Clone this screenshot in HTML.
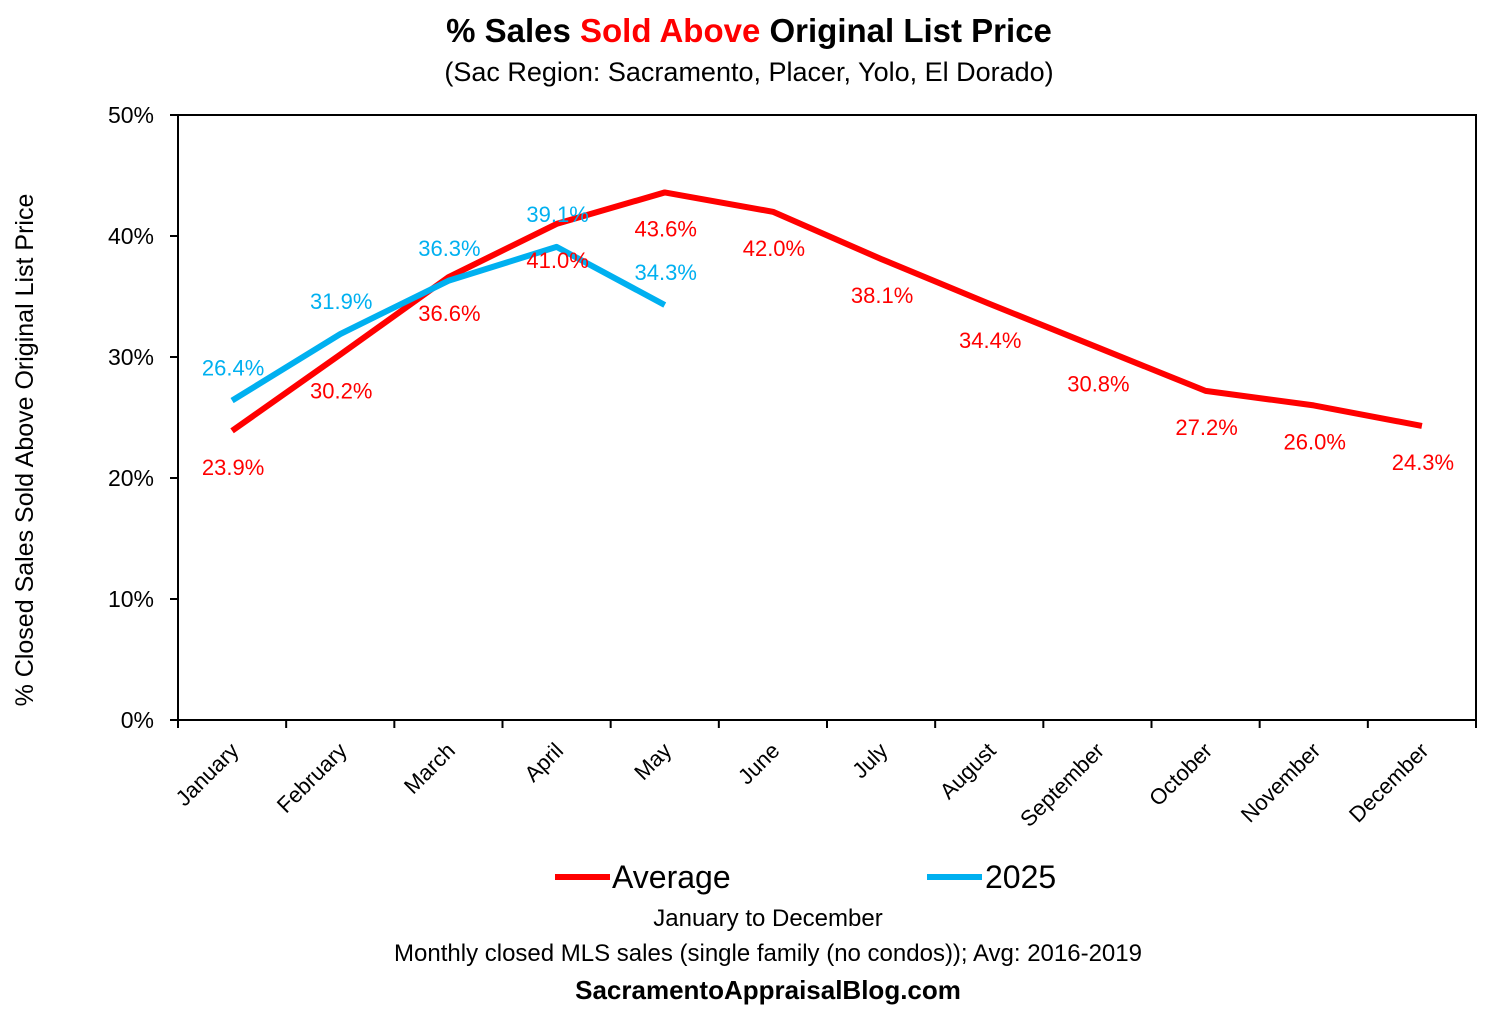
<!DOCTYPE html>
<html><head><meta charset="utf-8"><style>
body{margin:0;background:#fff;}
svg{display:block;font-family:"Liberation Sans",sans-serif;}
</style></head><body>
<svg id="chart" width="1500" height="1013" viewBox="0 0 1500 1013">
<text x="749" y="42" text-anchor="middle" font-size="33" font-weight="bold" fill="#000">% Sales <tspan fill="#ff0000">Sold Above</tspan> Original List Price</text>
<text x="749" y="81" text-anchor="middle" font-size="27" fill="#000">(Sac Region: Sacramento, Placer, Yolo, El Dorado)</text>
<text transform="translate(33,450) rotate(-90)" text-anchor="middle" font-size="25" fill="#000">% Closed Sales Sold Above Original List Price</text>
<g id="axes"></g>
<g id="series"></g>
<g>
<line x1="555" y1="877" x2="610" y2="877" stroke="#ff0000" stroke-width="6"/>
<text x="612" y="888" font-size="32" fill="#000">Average</text>
<line x1="927" y1="877" x2="982" y2="877" stroke="#00b0f0" stroke-width="6"/>
<text x="985" y="888" font-size="32" fill="#000">2025</text>
</g>
<text x="768" y="926" text-anchor="middle" font-size="24" fill="#000">January to December</text>
<text x="768" y="961" text-anchor="middle" font-size="24" fill="#000">Monthly closed MLS sales (single family (no condos)); Avg: 2016-2019</text>
<text x="768" y="999" text-anchor="middle" font-size="26" font-weight="bold" fill="#000">SacramentoAppraisalBlog.com</text>
</svg>
<script>
const months=["January","February","March","April","May","June","July","August","September","October","November","December"];
const avgValues=[23.9,30.2,36.6,41.0,43.6,42.0,38.1,34.4,30.8,27.2,26.0,24.3];
const y2025Values=[26.4,31.9,36.3,39.1,34.3];
const yTicks=[0,10,20,30,40,50];
const NS="http://www.w3.org/2000/svg";
const L=178,R=1476,T=115,B=720;
const bw=(R-L)/months.length;
const xs=i=>L+bw*(i+0.5);
const ys=v=>B-(v/50)*(B-T);
function mk(tag,attrs,parent){const e=document.createElementNS(NS,tag);for(const k in attrs)e.setAttribute(k,attrs[k]);parent.appendChild(e);return e;}
const axes=document.getElementById('axes');
let frame=mk('rect',{x:L,y:T,width:R-L,height:B-T,fill:'none',stroke:'#000','stroke-width':2},axes);


yTicks.forEach(t=>{
 const y=ys(t);
 let tk=mk('line',{x1:L-8,x2:L,y1:y,y2:y,stroke:'#000','stroke-width':2},axes);
 
 
 let lb=mk('text',{x:L-24,y:y+8,'text-anchor':'end','font-size':23,fill:'#000'},axes);
 lb.textContent=t+'%';
 
 
});
for(let i=0;i<=months.length;i++){
 const x=L+bw*i;
 let tk=mk('line',{x1:x,x2:x,y1:B,y2:B+8,stroke:'#000','stroke-width':2},axes);
 
 
}
months.forEach((m,i)=>{
 const x=xs(i)+8,y=B+32;
 let lb=mk('text',{x:x,y:y,'text-anchor':'end','font-size':22,fill:'#000',transform:`rotate(-45 ${x} ${y})`},axes);
 lb.textContent=m;
 
 
});
const ser=document.getElementById('series');
function line(vals,color,name){
 const pts=vals.map((v,i)=>xs(i)+','+ys(v)).join(' ');
 let p=mk('polyline',{points:pts,fill:'none',stroke:color,'stroke-width':6,'stroke-linejoin':'round'},ser);
 
 
}
line(avgValues,'#ff0000','average-line');
line(y2025Values,'#00b0f0','line-2025');
avgValues.forEach((v,i)=>{
 let t=mk('text',{x:xs(i)+1,y:ys(v)+44,'text-anchor':'middle','font-size':22,fill:'#ff0000'},ser);
 t.textContent=v.toFixed(1)+'%';
 
 
});
y2025Values.forEach((v,i)=>{
 let t=mk('text',{x:xs(i)+1,y:ys(v)-25,'text-anchor':'middle','font-size':22,fill:'#00b0f0'},ser);
 t.textContent=v.toFixed(1)+'%';
 
 
});
</script>
</body></html>
